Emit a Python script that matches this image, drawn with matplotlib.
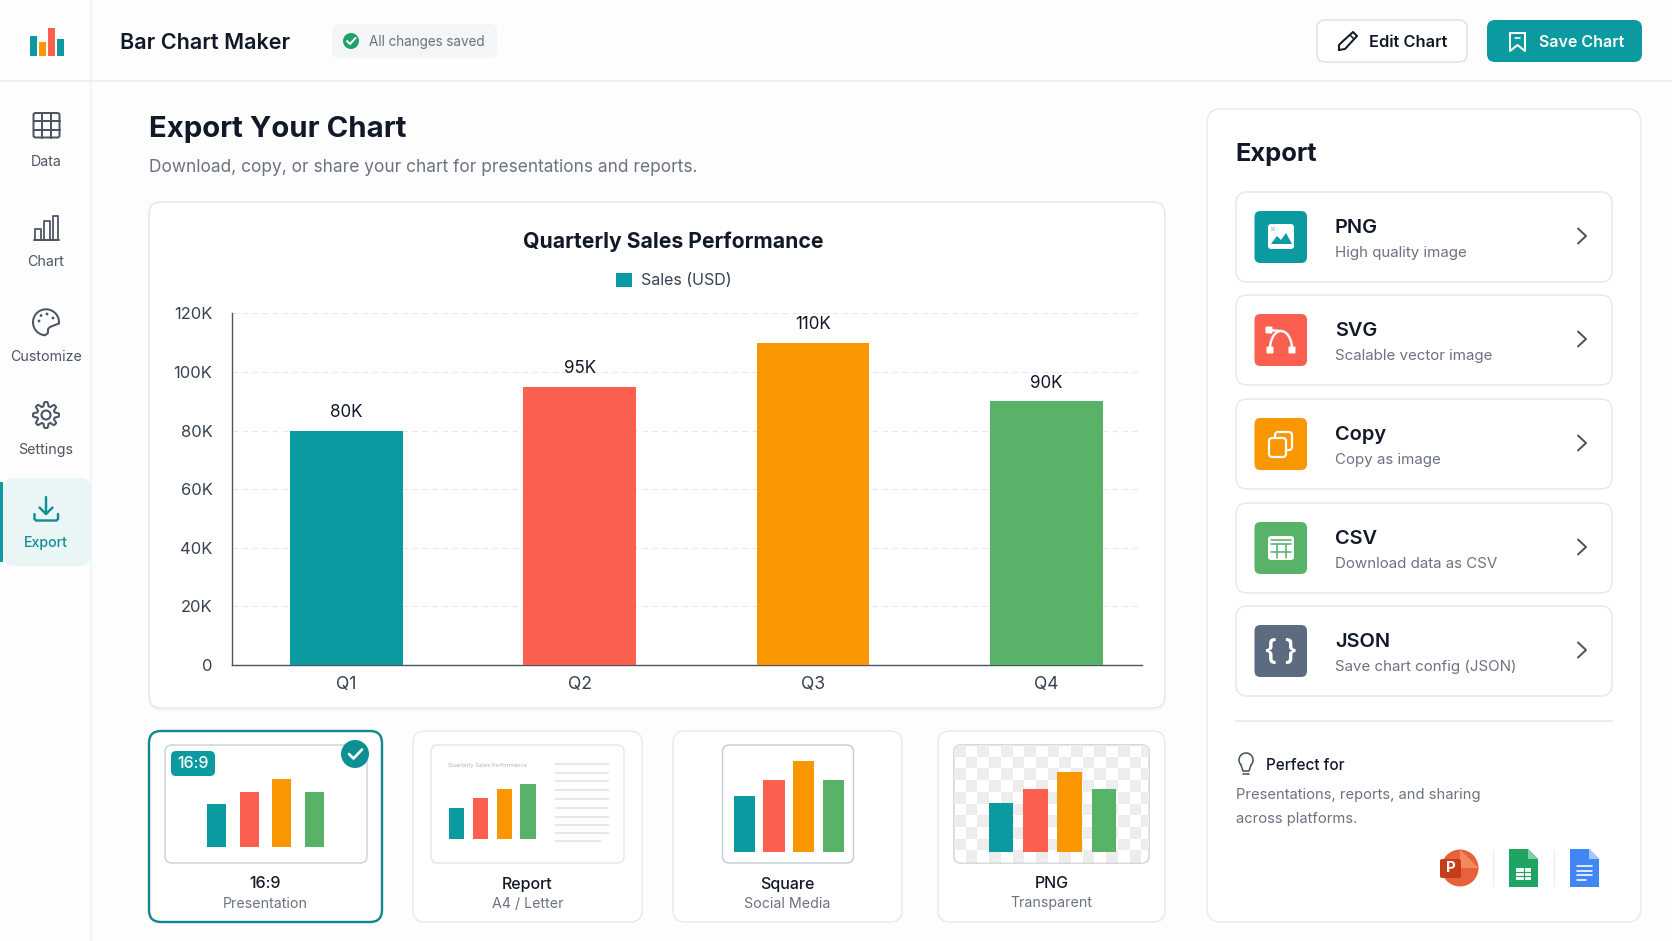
import numpy as np
import matplotlib
matplotlib.use("Agg")
import matplotlib.pyplot as plt
from matplotlib.patches import FancyBboxPatch, Circle, Rectangle, Polygon

# -------------------------------------------------
# data
# -------------------------------------------------
quarters = ["Q1", "Q2", "Q3", "Q4"]
sales = [80, 95, 110, 90]
sales_labels = ["80K", "95K", "110K", "90K"]
y_ticks = [0, 20, 40, 60, 80, 100, 120]
y_tick_labels = ["0", "20K", "40K", "60K", "80K", "100K", "120K"]

logo_values = [20, 14, 28, 17]
thumb_169 = [43, 55, 68, 55]
thumb_report = [31, 41, 50, 55]
thumb_square = [56, 72, 91, 72]
thumb_png = [49, 63, 80, 63]

nav_labels = ["Data", "Chart", "Customize", "Settings", "Export"]
export_titles = ["PNG", "SVG", "Copy", "CSV", "JSON"]
export_subs = ["High quality image", "Scalable vector image", "Copy as image",
               "Download data as CSV", "Save chart config (JSON)"]
format_titles = ["16:9", "Report", "Square", "PNG"]
format_subs = ["Presentation", "A4 / Letter", "Social Media", "Transparent"]

TEAL = "#0A9A9F"
RED = "#FA5F50"
ORANGE = "#FA9600"
GREEN = "#58B368"
SLATE = "#5C6B80"
DARK = "#111827"
GRAY = "#6B7280"
ICON = "#4B5563"
BORDER = "#E5E7EB"
bar_colors = [TEAL, RED, ORANGE, GREEN]

W, H = 1672, 941
plt.rcParams["font.family"] = ["Inter", "Liberation Sans", "DejaVu Sans"]

fig = plt.figure(figsize=(W / 100, H / 100), dpi=100, facecolor="#FDFDFE")
ui = fig.add_axes([0, 0, 1, 1])
ui.set_xlim(0, W)
ui.set_ylim(H, 0)
ui.axis("off")


# -------------------------------------------------
# helpers (all sizes in pixels)
# -------------------------------------------------
def box(x0, y0, x1, y1, r=8, fc="white", ec=BORDER, lw=1.5, z=1, alpha=None):
    p = FancyBboxPatch((x0, y0), x1 - x0, y1 - y0,
                       boxstyle=f"round,pad=0,rounding_size={r}",
                       fc=fc, ec=ec, lw=lw * 0.72, zorder=z, alpha=alpha)
    ui.add_patch(p)
    return p


def T(x, y, s, px=16, color=DARK, weight="normal", ha="left"):
    # va=center sits a bit high for Inter, so push down 2px
    ui.text(x, y + 2, s, fontsize=px * 0.72, color=color, fontweight=weight,
            ha=ha, va="center", zorder=6)


def L(xs, ys, color=ICON, lw=2, z=5):
    ui.plot(xs, ys, color=color, lw=lw * 0.72, zorder=z,
            solid_capstyle="round", solid_joinstyle="round")


def inset(x0, y_top, x1, y_bot):
    ax = fig.add_axes([x0 / W, 1 - y_bot / H, (x1 - x0) / W, (y_bot - y_top) / H])
    ax.patch.set_alpha(0)
    return ax


def mini_bars(values, x0, x1, y_bot, px_per_unit, width, colors=bar_colors):
    top = y_bot - max(values) * px_per_unit
    ax = inset(x0, top, x1, y_bot)
    ax.bar(range(len(values)), values, width=width, color=colors)
    ax.set_xlim(-width / 2, len(values) - 1 + width / 2)
    ax.set_ylim(0, max(values))
    ax.axis("off")
    return ax


def chevron(x, y):
    L([x - 4, x + 4, x - 4], [y - 7.5, y, y + 7.5], color=ICON, lw=2)


# -------------------------------------------------
# app frame
# -------------------------------------------------
ui.plot([0, W], [81, 81], color="#ECEEF1", lw=1.5, zorder=1)
ui.plot([90.5, 90.5], [0, H], color="#F0F1F3", lw=1.2, zorder=1)

mini_bars(logo_values, 30, 64, 56, 1, 0.74, [TEAL, ORANGE, RED, TEAL])
T(120, 40.5, "Bar Chart Maker", 21.6, DARK, "semibold")

box(332, 24, 497, 58, r=7, fc="#F3F5F6", ec="none", lw=0)
ui.add_patch(Circle((351, 41), 8, fc="#22A06B", ec="none", zorder=3))
L([347, 350, 355.5], [41, 44, 38], color="white", lw=2)
T(369, 39.5, "All changes saved", 13.5, GRAY)

box(1317, 20, 1467, 62, r=8, fc="white", ec="#DFE2E6")
L([1339, 1339, 1342, 1353, 1357, 1345, 1339], [50, 45, 42, 32, 36, 49, 50], color=DARK, lw=2)
L([1350, 1354], [35, 39], color=DARK, lw=1.5)
T(1369, 40.5, "Edit Chart", 16.4, DARK, "semibold")

box(1487, 20, 1642, 62, r=8, fc=TEAL, ec="none", lw=0)
L([1510, 1510, 1517.5, 1525, 1525, 1510], [33, 51, 45, 51, 33, 33], color="white", lw=2)
L([1515, 1520], [38, 38], color="white", lw=1.6)
T(1539, 40.5, "Save Chart", 16, "white", "semibold")

# sidebar
nav_y = [160, 260, 355, 448, 541]
for lab, ny in zip(nav_labels, nav_y):
    active = lab == "Export"
    if active:
        box(4, 478, 90, 566, r=9, fc="#EAF5F6", ec="none", lw=0)
        ui.add_patch(Rectangle((0, 482), 3, 80, fc=TEAL, ec="none", zorder=2))
    T(46, ny, lab, 14.2, "#0E8F94" if active else "#4B5563", "medium" if active else "normal", "center")

# data icon
box(33.5, 113, 59.5, 137.5, r=2, fc="none", ec=ICON, lw=2, z=5)
for gx in (42.2, 50.8):
    L([gx, gx], [113, 137.5])
for gy in (121, 129.5):
    L([33.5, 59.5], [gy, gy])
# chart icon
L([34, 59], [240, 240])
for bx0, bx1, btop in ((35, 41, 229), (44, 50, 221), (53, 58, 216)):
    L([bx0, bx0, bx1, bx1], [240, btop, btop, 240], lw=1.8)
# palette icon
t = np.radians(np.linspace(-5, 265, 60))
L(46 + 13 * np.cos(t), 322.3 - 13 * np.sin(t))
L([44.9, 48, 48, 50, 59], [335.3, 333, 329, 327, 323.4])
for dx, dy in ((39, 321), (41, 315.5), (47, 314), (53, 318)):
    ui.add_patch(Circle((dx, dy), 1.4, fc=ICON, ec="none", zorder=5))
# gear icon
t = np.linspace(0, 2 * np.pi, 320)
r_gear = 11 + 2 * np.clip(1.6 * np.cos(8 * t), -1, 1)
L(46 + r_gear * np.cos(t), 415 + r_gear * np.sin(t))
ui.add_patch(Circle((46, 415), 4.5, fc="none", ec=ICON, lw=1.5, zorder=5))
# export icon
L([46, 46], [497, 514], color="#0E8F94", lw=2.4)
L([39.5, 46, 52.5], [507.5, 514, 507.5], color="#0E8F94", lw=2.4)
L([34.5, 34.5, 36, 56.5, 58, 58], [514, 519, 520.5, 520.5, 519, 514], color="#0E8F94", lw=2.4)

# -------------------------------------------------
# heading + main chart card
# -------------------------------------------------
T(149, 127, "Export Your Chart", 29.3, DARK, "bold")
T(149, 165, "Download, copy, or share your chart for presentations and reports.", 17.3, GRAY)

box(149, 204, 1165, 711, r=12, fc="black", ec="none", lw=0, alpha=0.025, z=1)
box(149, 202, 1165, 708, r=12, fc="white", ec=BORDER, z=2)
T(673, 239.5, "Quarterly Sales Performance", 21.2, DARK, "bold", "center")

px_per_k = 2.93
ax = inset(232, 665 - 120 * px_per_k, 1142, 665)
ax.set_zorder(3)
x_pos = np.arange(len(quarters))
bars = ax.bar(x_pos, sales, width=0.482, color=bar_colors, zorder=3, label="Sales (USD)")
ax.set_xlim(-0.49, 3.41)
ax.set_ylim(0, 120)
ax.set_xticks(x_pos, quarters)
ax.set_yticks(y_ticks, y_tick_labels)
ax.tick_params(axis="both", length=0, labelsize=16.5 * 0.72, labelcolor="#374151")
ax.tick_params(axis="y", pad=14)
ax.tick_params(axis="x", pad=8, labelsize=17.5 * 0.72)
ax.grid(axis="y", color="#E6E8EB", lw=0.8, ls=(0, (5, 4)), zorder=0)
ax.set_axisbelow(True)
for side in ("top", "right"):
    ax.spines[side].set_visible(False)
for side in ("left", "bottom"):
    ax.spines[side].set_color("#4B5563")
    ax.spines[side].set_linewidth(1.0)
ax.bar_label(bars, labels=sales_labels, padding=7, fontsize=17 * 0.72, color=DARK)
ax.legend(handles=[Rectangle((0, 0), 1, 1, fc=TEAL)], labels=["Sales (USD)"],
          loc="center", bbox_to_anchor=(674, 280.5), bbox_transform=ui.transData,
          frameon=False, fontsize=16 * 0.72, labelcolor="#374151",
          handlelength=1.0, handleheight=1.0, handletextpad=0.6, borderpad=0, borderaxespad=0)

# -------------------------------------------------
# format cards
# -------------------------------------------------
card_x = [(149, 382), (413, 642), (673, 902), (938, 1165)]
inner_x = [(165, 367), (431, 624), (722.5, 853.5), (954, 1149)]
inner_ec = ["#CFD3D8", BORDER, "#C9CDD3", "#D5D8DC"]
for i in range(4):
    selected = i == 0
    box(card_x[i][0], 731, card_x[i][1], 922, r=12, fc="white",
        ec="#14878C" if selected else "#E8EAED", lw=2.4 if selected else 1.5)
    box(inner_x[i][0], 745, inner_x[i][1], 863, r=7, fc="white", ec=inner_ec[i], z=2)
    cx = sum(card_x[i]) / 2
    T(cx, 882, format_titles[i], 16, DARK, "medium", "center")
    T(cx, 901.5, format_subs[i], 14.2, GRAY, "normal", "center")

# 16:9 badge and check
box(171, 751, 215, 776, r=5, fc=TEAL, ec="none", lw=0, z=4)
T(193, 761.5, "16:9", 16, "white", "medium", "center")
ui.add_patch(Circle((355, 754), 14, fc="#0E8F94", ec="none", zorder=4))
L([349, 353.5, 362], [754, 758.5, 749.5], color="white", lw=2.6)
mini_bars(thumb_169, 207, 324, 847, 1, 0.58)

# report thumbnail
T(448, 763, "Quarterly Sales Performance", 5.7, "#B0B4BA")
mini_bars(thumb_report, 449, 535.5, 839, 1, 0.63)
line_y = [764, 773, 781, 790, 799, 808, 817, 825, 833]
for ly in line_y:
    ui.plot([556, 608], [ly, ly], color="#E6E8EB", lw=1.5, zorder=3)
ui.plot([556, 600], [841, 841], color="#E6E8EB", lw=1.5, zorder=3)

mini_bars(thumb_square, 733.5, 844, 852, 1, 0.72)

# png thumbnail: checkerboard clipped to the rounded box
clip = box(954, 745, 1149, 863, r=7, fc="white", ec="#D5D8DC", z=2)
cell = 11.7
for row in range(11):
    for col in range(17):
        if (row + col) % 2 == 0:
            sq = Rectangle((954 + col * cell, 745 + row * cell), cell, cell,
                           fc="#EDEDED", ec="none", zorder=3)
            ui.add_patch(sq)
            sq.set_clip_path(clip)
mini_bars(thumb_png, 989, 1116, 852, 1, 0.71)

# -------------------------------------------------
# export panel
# -------------------------------------------------
box(1207, 109, 1641, 922, r=14, fc="white", ec="#E8EAED")
T(1235, 152, "Export", 25.5, DARK, "bold")

card_top = [192, 295, 399, 503, 606]
icon_colors = [TEAL, RED, ORANGE, GREEN, SLATE]
for top, title, sub, col in zip(card_top, export_titles, export_subs, icon_colors):
    box(1236, top, 1612, top + 90, r=11, fc="white", ec="#E6E8EB", z=2)
    mid = top + 45
    box(1254.5, mid - 26, 1307, mid + 26, r=6, fc=col, ec="none", lw=0, z=3)
    T(1335, mid - 11, title, 20, DARK, "semibold")
    T(1335, mid + 14, sub, 15.1, GRAY)
    chevron(1582, mid - 1)

# png icon
m = card_top[0] + 45
box(1268, m - 13, 1294, m + 12, r=3, fc="white", ec="none", lw=0, z=4)
ui.add_patch(Polygon([(1271, m + 7), (1277, m - 1), (1281, m + 3), (1286, m - 4), (1292, m + 7)],
                     fc=TEAL, ec="none", zorder=5))
ui.add_patch(Rectangle((1271, m - 10), 4, 4, fc="#BDE3E4", ec="none", zorder=5))
# svg icon
m = card_top[1] + 45
t = np.radians(np.linspace(180, 0, 30))
L(1281 + 11 * np.cos(t), m + 9 - 18 * np.sin(t), color="white", lw=2.4)
L([1269, 1280], [m - 10, m - 9], color="white", lw=2.4)
for sx, sy in ((1269, m - 10), (1270, m + 10), (1292, m + 10)):
    box(sx - 3.5, sy - 3.5, sx + 3.5, sy + 3.5, r=1, fc="white", ec="none", lw=0, z=5)
# copy icon
m = card_top[2] + 45
box(1275, m - 12, 1292, m + 6, r=3, fc="none", ec="white", lw=2.2, z=5)
box(1269, m - 6, 1286, m + 13, r=3, fc=ORANGE, ec="white", lw=2.2, z=5)
# csv icon
m = card_top[3] + 45
box(1268, m - 12, 1294, m + 12, r=3, fc="white", ec="none", lw=0, z=4)
for gy in (m - 4, m + 4):
    L([1271, 1291], [gy, gy], color=GREEN, lw=1.6)
for gx in (1276.5, 1285.5):
    L([gx, gx], [m - 4, m + 10], color=GREEN, lw=1.6)
L([1271, 1291], [m - 8, m - 8], color=GREEN, lw=1.6)
# json icon
m = card_top[4] + 45
T(1280.5, m - 1, "{ }", 29, "white", "semibold", "center")

ui.plot([1236, 1612], [721, 721], color="#E6E8EB", lw=1.2, zorder=2)

# perfect for
t = np.radians(np.linspace(-45, 225, 40))
L(1246 + 7 * np.cos(t), 760 - 7 * np.sin(t), color=ICON, lw=1.6)
L([1241, 1243, 1249, 1251], [765, 771, 771, 765], color=ICON, lw=1.6)
L([1243, 1249], [774, 774], color=ICON, lw=1.6)
T(1266, 763, "Perfect for", 15.3, DARK, "medium")
T(1236, 792.5, "Presentations, reports, and sharing", 14.8, GRAY)
T(1236, 816.5, "across platforms.", 14.8, GRAY)

# powerpoint icon
ui.add_patch(Circle((1460, 868), 18.5, fc="#E8613A", ec="none", zorder=3))
ui.add_patch(Polygon([(1460, 849.5), (1478.5, 868), (1460, 868)], fc="#F28A5E", ec="none", zorder=3))
box(1440, 859, 1461, 878, r=2, fc="#C43E1C", ec="none", lw=0, z=4)
T(1450.5, 866.5, "P", 15, "white", "bold", "center")
ui.plot([1492.5, 1492.5], [850, 886], color="#ECEEF1", lw=1, zorder=3)
ui.plot([1553.5, 1553.5], [850, 886], color="#ECEEF1", lw=1, zorder=3)
# sheets icon
ui.add_patch(Polygon([(1509, 849), (1528, 849), (1538, 859), (1538, 887), (1509, 887)],
                     fc="#1FA463", ec="none", zorder=3))
ui.add_patch(Polygon([(1528, 849), (1538, 859), (1528, 859)], fc="#7FD0A6", ec="none", zorder=4))
box(1516, 868, 1531, 880, r=0.5, fc="white", ec="none", lw=0, z=4)
L([1516, 1531], [872, 872], color="#1FA463", lw=1.2)
L([1516, 1531], [876, 876], color="#1FA463", lw=1.2)
L([1523.5, 1523.5], [868, 880], color="#1FA463", lw=1.2)
# docs icon
ui.add_patch(Polygon([(1570, 849), (1589, 849), (1599, 859), (1599, 887), (1570, 887)],
                     fc="#4285F4", ec="none", zorder=3))
ui.add_patch(Polygon([(1589, 849), (1599, 859), (1589, 859)], fc="#A6C6FA", ec="none", zorder=4))
for ly, lx in ((866, 1592), (870.5, 1592), (875, 1592), (879.5, 1586)):
    L([1577, lx], [ly, ly], color="white", lw=1.6)

fig.savefig("out.png", dpi=100, facecolor=fig.get_facecolor())
